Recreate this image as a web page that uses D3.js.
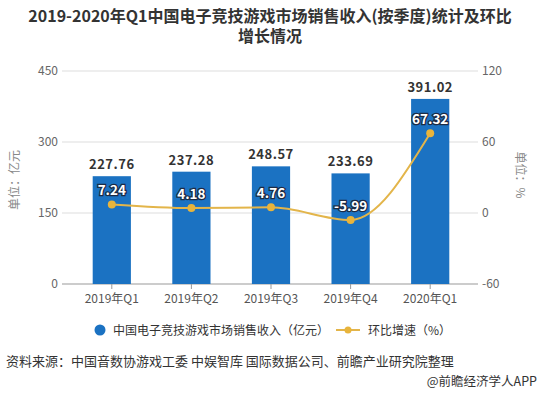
<!DOCTYPE html>
<html>
<head>
<meta charset="utf-8">
<script src="https://cdn.jsdelivr.net/npm/d3@7"></script>
<style>
  body { margin: 0; background: #fff; }
  text { font-family: "Microsoft YaHei", "Noto Sans CJK SC", sans-serif; }
</style>
</head>
<body>
<div id="chart"></div>
<script>
var svgWidth = 539;
var svgHeight = 394;

// data
var quarters = ["2019年Q1", "2019年Q2", "2019年Q3", "2019年Q4", "2020年Q1"];
var revenue = [227.76, 237.28, 248.57, 233.69, 391.02];
var growth = [7.24, 4.18, 4.76, -5.99, 67.32];
var leftTicks = [0, 150, 300, 450];
var rightTicks = [-60, 0, 60, 120];

var plot = { left: 62, right: 478, top: 71, bottom: 284 };

var svg = d3.select("#chart")
  .append("svg")
  .attr("width", svgWidth)
  .attr("height", svgHeight);

// title, two lines
svg.append("text")
  .attr("x", 270).attr("y", 22)
  .attr("text-anchor", "middle")
  .attr("font-size", 16)
  .attr("font-weight", "bold")
  .attr("fill", "#333")
  .text("2019-2020年Q1中国电子竞技游戏市场销售收入(按季度)统计及环比");
svg.append("text")
  .attr("x", 270).attr("y", 42)
  .attr("text-anchor", "middle")
  .attr("font-size", 16)
  .attr("font-weight", "bold")
  .attr("fill", "#333")
  .text("增长情况");

// scales
var xScale = d3.scaleBand()
  .domain(quarters)
  .range([72, 470])
  .paddingInner(0.52)
  .paddingOuter(0.26);

var yLeft = d3.scaleLinear().domain([0, 450]).range([plot.bottom, plot.top]);
var yRight = d3.scaleLinear().domain([-60, 120]).range([plot.bottom, plot.top]);

var cx = d => xScale(d) + xScale.bandwidth() / 2;

// gridlines
svg.append("g").selectAll("line")
  .data(leftTicks)
  .enter()
  .append("line")
  .attr("x1", plot.left)
  .attr("x2", plot.right)
  .attr("y1", d => yLeft(d))
  .attr("y2", d => yLeft(d))
  .attr("stroke", d => d === 0 ? "#999" : "#ddd")
  .attr("stroke-width", 1);

// left axis labels
svg.append("g").selectAll("text")
  .data(leftTicks)
  .enter()
  .append("text")
  .attr("x", plot.left - 4)
  .attr("y", d => yLeft(d) + 4)
  .attr("text-anchor", "end")
  .attr("font-size", 12)
  .attr("fill", "#666")
  .text(d => d);

// right axis labels
svg.append("g").selectAll("text")
  .data(rightTicks)
  .enter()
  .append("text")
  .attr("x", plot.right + 4)
  .attr("y", d => yRight(d) + 4)
  .attr("text-anchor", "start")
  .attr("font-size", 12)
  .attr("fill", "#666")
  .text(d => d);

// axis unit labels
svg.append("text")
  .attr("transform", "translate(19, 180) rotate(-90)")
  .attr("text-anchor", "middle")
  .attr("font-size", 12)
  .attr("fill", "#888")
  .text("单位：亿元");

svg.append("text")
  .attr("transform", "translate(516, 175) rotate(90)")
  .attr("text-anchor", "middle")
  .attr("font-size", 12)
  .attr("fill", "#888")
  .text("单位：%");

// x ticks and labels
svg.append("g").selectAll("line")
  .data(quarters)
  .enter()
  .append("line")
  .attr("x1", cx)
  .attr("x2", cx)
  .attr("y1", plot.bottom)
  .attr("y2", plot.bottom + 5)
  .attr("stroke", "#999");

svg.append("g").selectAll("text")
  .data(quarters)
  .enter()
  .append("text")
  .attr("x", cx)
  .attr("y", plot.bottom + 19)
  .attr("text-anchor", "middle")
  .attr("font-size", 12)
  .attr("fill", "#555")
  .text(d => d);

// bars
svg.append("g").selectAll("rect")
  .data(revenue)
  .enter()
  .append("rect")
  .attr("x", (d, i) => xScale(quarters[i]))
  .attr("y", d => yLeft(d))
  .attr("width", xScale.bandwidth())
  .attr("height", d => plot.bottom - yLeft(d))
  .attr("fill", "#1b72c2");

// bar value labels
svg.append("g").selectAll("text")
  .data(revenue)
  .enter()
  .append("text")
  .attr("x", (d, i) => cx(quarters[i]))
  .attr("y", d => yLeft(d) - 7)
  .attr("text-anchor", "middle")
  .attr("font-size", 13)
  .attr("font-weight", "bold")
  .attr("letter-spacing", 0.5)
  .attr("fill", "#333")
  .text(d => d.toFixed(2));

// growth line
var line = d3.line()
  .x((d, i) => cx(quarters[i]))
  .y(d => yRight(d))
  .curve(d3.curveMonotoneX);

svg.append("path")
  .datum(growth)
  .attr("d", line)
  .attr("fill", "none")
  .attr("stroke", "#e3b54a")
  .attr("stroke-width", 2);

svg.append("g").selectAll("circle")
  .data(growth)
  .enter()
  .append("circle")
  .attr("cx", (d, i) => cx(quarters[i]))
  .attr("cy", d => yRight(d))
  .attr("r", 4)
  .attr("fill", "#e8b43c");

// growth labels, white with dark outline
svg.append("g").selectAll("text")
  .data(growth)
  .enter()
  .append("text")
  .attr("x", (d, i) => cx(quarters[i]))
  .attr("y", d => yRight(d) - 9)
  .attr("text-anchor", "middle")
  .attr("font-size", 13.5)
  .attr("font-weight", "bold")
  .attr("fill", "#fff")
  .attr("stroke", "#1c2b45")
  .attr("stroke-width", 2.5)
  .attr("paint-order", "stroke")
  .text(d => d.toFixed(2));

// legend
var legend = svg.append("g").attr("transform", "translate(0, 330)");
legend.append("circle")
  .attr("cx", 100).attr("cy", 0).attr("r", 5.5)
  .attr("fill", "#1b72c2");
legend.append("text")
  .attr("x", 113).attr("y", 4.5)
  .attr("font-size", 12)
  .attr("fill", "#333")
  .text("中国电子竞技游戏市场销售收入（亿元）");
legend.append("line")
  .attr("x1", 336).attr("x2", 360).attr("y1", 0).attr("y2", 0)
  .attr("stroke", "#e3b54a").attr("stroke-width", 2);
legend.append("circle")
  .attr("cx", 348).attr("cy", 0).attr("r", 3.5)
  .attr("fill", "#e8b43c");
legend.append("text")
  .attr("x", 368).attr("y", 4.5)
  .attr("font-size", 12)
  .attr("fill", "#333")
  .text("环比增速（%）");

// source and credit
svg.append("text")
  .attr("x", 6).attr("y", 366)
  .attr("font-size", 13)
  .attr("fill", "#333")
  .text("资料来源：中国音数协游戏工委 中娱智库 国际数据公司、前瞻产业研究院整理");

svg.append("text")
  .attr("x", 537).attr("y", 386)
  .attr("text-anchor", "end")
  .attr("font-size", 12.5)
  .attr("fill", "#333")
  .text("@前瞻经济学人APP");
</script>
</body>
</html>
